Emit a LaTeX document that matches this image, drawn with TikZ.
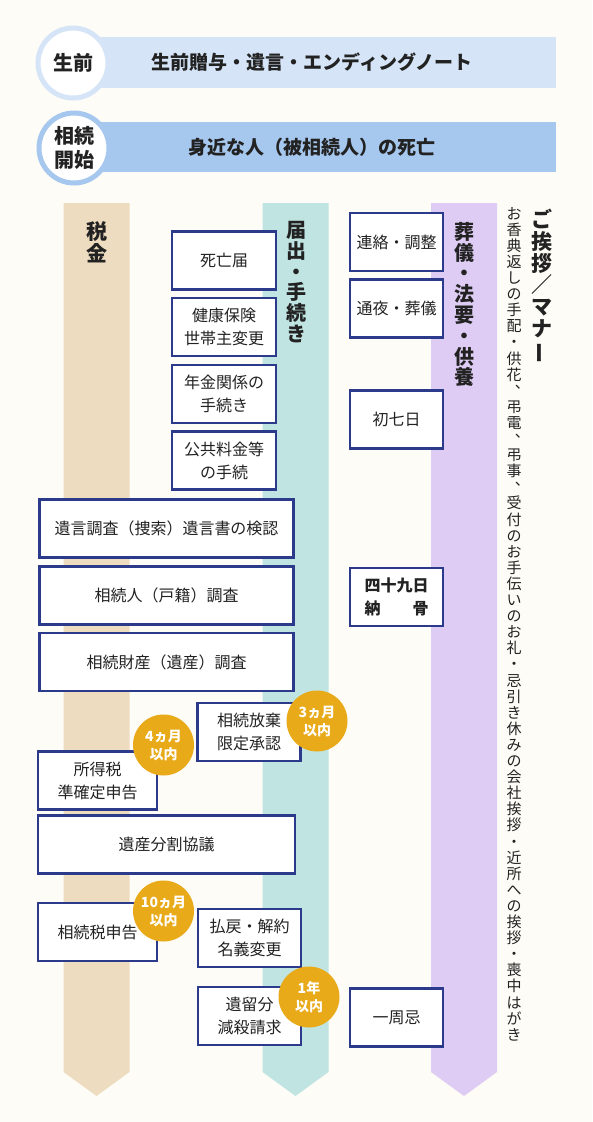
\documentclass[tikz,border=0pt]{standalone}
\usepackage{fontspec}
\setmainfont{Noto Sans CJK JP}
\usepackage{graphicx}
\usepackage{tikz}

\definecolor{bgcol}{HTML}{FDFCF6}
\definecolor{bartop}{HTML}{D5E5F7}
\definecolor{barmid}{HTML}{A7C8EE}
\definecolor{taxcol}{HTML}{EEDCC0}
\definecolor{todocol}{HTML}{C0E4E2}
\definecolor{sougicol}{HTML}{DECCF4}
\definecolor{boxline}{HTML}{2C3A8C}
\definecolor{badgecol}{HTML}{E8AA19}
\definecolor{inkcol}{HTML}{222222}

%縦書き: 1文字ずつ積む
\newcommand\tatechar[1]{\hbox to 1em{\hss
  \ifx、#1\makebox[1em][l]{\hspace{.56em}\raisebox{.5em}[0pt][0pt]{、}}%
  \else\ifx ー#1\rotatebox[origin=c]{90}{ー}%
  \else #1\fi\fi\hss}}
\def\tatestep#1{\ifx\relax#1\else\tatechar{#1}\expandafter\tatestep\fi}
\newcommand\tate[1]{\vbox{\tatestep#1\relax}}

\begin{document}
\begin{tikzpicture}[x=1pt, y=-1pt, every node/.style={text=inkcol},
  box/.style={draw=boxline, line width=2.2pt, fill=white, inner sep=0pt, align=center,
    font=\fontsize{16}{23}\selectfont},
  widebox/.style={box, minimum width=254, minimum height=58},
  smallbox/.style={box, minimum width=103, minimum height=58},
  badge/.style={circle, fill=badgecol, text=white, inner sep=0pt, minimum size=61,
    align=center, font=\bfseries\fontsize{14}{18}\selectfont},
  stage/.style={circle, fill=white, line width=5pt, minimum size=70, inner sep=0pt,
    align=center, font=\bfseries\fontsize{20}{24}\selectfont},
  colhead/.style={anchor=north, inner sep=0pt, font=\bfseries\fontsize{20}{20.8}\selectfont}]
  \useasboundingbox (0,0) rectangle (592,1122);
  \fill[bgcol] (0,0) rectangle (592,1122);

  % 帯
  \fill[bartop] (73,37) rectangle (556,88);
  \fill[barmid] (73,122) rectangle (556,172);
  \node[stage, draw=bartop] (seizen) at (73,63) {生前};
  \node[stage, draw=barmid] (kaishi) at (74,148) {相続\\開始};
  \node[font=\bfseries\fontsize{19}{22}\selectfont] (seizentxt) at (312,62.5) {生前贈与・遺言・エンディングノート};
  \node[font=\bfseries\fontsize{19}{22}\selectfont] (shibou) at (312,147) {身近な人（被相続人）の死亡};

  % 列（矢印）
  \foreach \x/\c in {63.5/taxcol, 262.5/todocol, 431/sougicol}
    \fill[\c] (\x,203) -- ++(66,0) -- ++(0,869) -- ++(-33,24) -- ++(-33,-24) -- cycle;

  % 列見出し
  \node[colhead, font=\bfseries\fontsize{21}{22.5}\selectfont] (zeikin) at (97,221) {\tate{税金}};
  \node[colhead] (todokede) at (296,221) {\tate{届出・手続き}};
  \node[colhead] (sougi) at (464,222) {\tate{葬儀・法要・供養}};
  \node[colhead, font=\bfseries\fontsize{21}{21.7}\selectfont] (aisatsu) at (542,209) {\tate{ご挨拶／マナー}};
  \node[anchor=north, inner sep=0pt, font=\fontsize{15}{16.1}\selectfont] (manner) at (514,207)
    {\tate{お香典返しの手配・供花、弔電、弔事、受付のお手伝いのお礼・忌引き休みの会社挨拶・近所への挨拶・喪中はがき}};

  % 届出・手続き
  \node[smallbox, minimum width=104] (shiboutodoke) at (224,260.5) {死亡届};
  \node[smallbox, minimum width=104] (kenkou) at (224,327) {健康保険\\世帯主変更};
  \node[smallbox, minimum width=104] (nenkin) at (224,394) {年金関係の\\手続き};
  \node[smallbox, minimum width=104] (koukyou) at (224,460.5) {公共料金等\\の手続};

  % 葬儀・法要
  \node[smallbox, minimum width=93] (renraku) at (396.5,242) {連絡・調整};
  \node[smallbox, minimum width=93] (tsuya) at (396.5,308.5) {通夜・葬儀};
  \node[smallbox, minimum width=93] (shonanoka) at (396.5,419.5) {初七日};
  \node[smallbox, minimum width=93, font=\bfseries\fontsize{16}{23}\selectfont] (shijuku) at (396.5,597)
    {四十九日\\\makebox[4em]{納\hfill 骨}};
  \node[smallbox, minimum width=93] (isshuuki) at (396.5,1017.5) {一周忌};

  % 相続
  \node[widebox] (yuigon) at (166.5,528.5) {遺言調査（捜索）遺言書の検認};
  \node[widebox] (souzokunin) at (166.5,595.5) {相続人（戸籍）調査};
  \node[widebox] (zaisan) at (166.5,662) {相続財産（遺産）調査};
  \node[smallbox] (houki) at (249,732) {相続放棄\\限定承認};
  \node[smallbox, minimum width=119] (shotoku) at (97.5,780.5) {所得税\\準確定申告};
  \node[widebox, minimum width=257] (bunkatsu) at (166.5,844.5) {遺産分割協議};
  \node[smallbox, minimum width=119] (souzokuzei) at (97.5,932) {相続税申告};
  \node[smallbox] (haraimodoshi) at (249.5,938) {払戻・解約\\名義変更};
  \node[smallbox] (iryuubun) at (249.5,1016) {遺留分\\減殺請求};

  % 期限
  \node[badge] (kigen4) at (163.5,745) {4ヵ月\\以内};
  \node[badge] (kigen3) at (317,721) {3ヵ月\\以内};
  \node[badge] (kigen10) at (163.5,911) {10ヵ月\\以内};
  \node[badge] (kigen1) at (309,997) {1年\\以内};
\end{tikzpicture}
\end{document}
